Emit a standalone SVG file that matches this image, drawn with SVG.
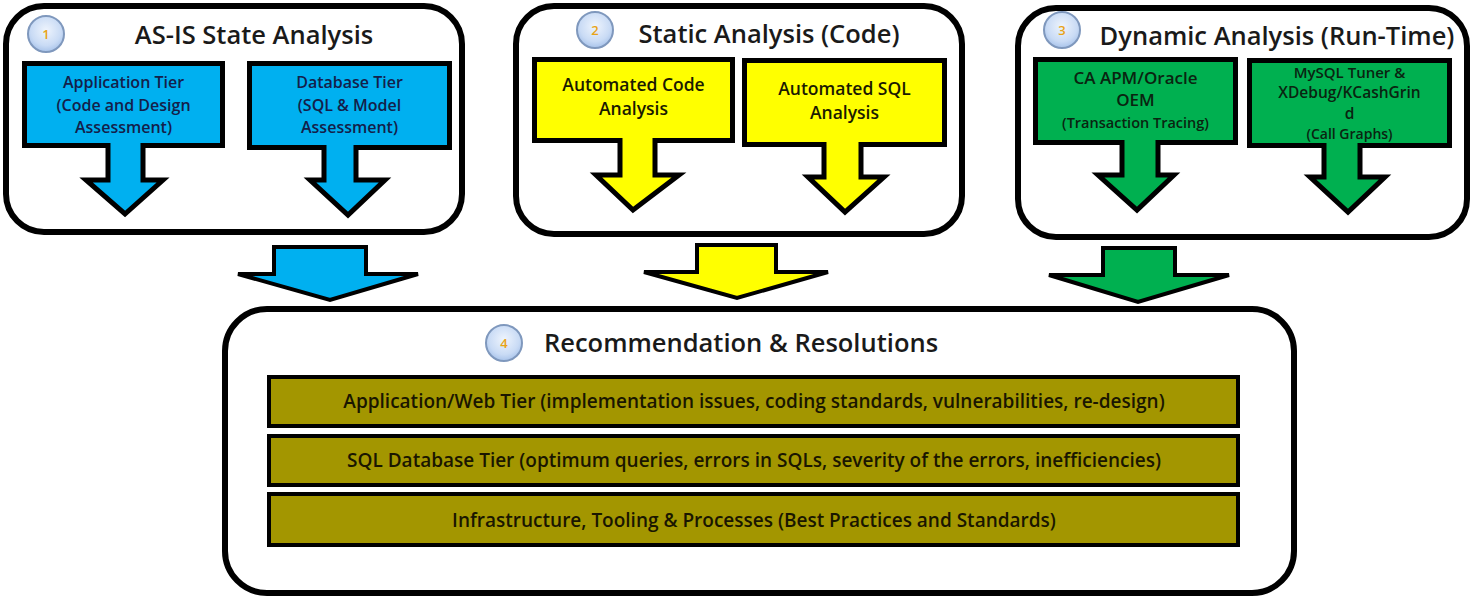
<svg xmlns="http://www.w3.org/2000/svg" width="1483" height="600" viewBox="0 0 1483 600">
<defs>
<radialGradient id="badgeGrad" cx="50%" cy="40%" r="60%">
<stop offset="0" stop-color="#eef4fd"/>
<stop offset="0.7" stop-color="#c9dbf5"/>
<stop offset="1" stop-color="#a8c3ea"/>
</radialGradient>
<style>
.panel{fill:#ffffff;stroke:#000;stroke-width:6}
.callout{stroke:#000;stroke-width:5;stroke-linejoin:miter;stroke-miterlimit:4}
.blue{fill:#00b0f0}
.yellow{fill:#ffff00}
.green{fill:#00b050}
.bar{fill:#a39600;stroke:#000;stroke-width:4}
.big{stroke:#000;stroke-width:4;stroke-linejoin:miter;stroke-miterlimit:4}
.badge{fill:url(#badgeGrad);stroke:#7f98bd;stroke-width:2}
.num{font-family:"Open Sans","Liberation Sans",sans-serif;font-size:13px;font-weight:600;fill:#e8a317;text-anchor:middle}
.title{font-family:"Open Sans","Liberation Sans",sans-serif;font-size:25.5px;font-weight:600;fill:#1a1a1a;text-anchor:middle}
.t{font-family:"Open Sans","Liberation Sans",sans-serif;font-size:16px;font-weight:600;text-anchor:middle}
.tb{fill:#14204a}
.ty{fill:#1a1a00;font-size:17.5px}
.tg{fill:#0a2410}
.to{font-family:"Open Sans","Liberation Sans",sans-serif;font-size:19px;font-weight:600;fill:#1a1600;text-anchor:middle}
</style>
</defs>
<rect width="1483" height="600" fill="#ffffff"/>

<!-- Panel 1 -->
<g id="panel-asis">
<rect class="panel" x="6" y="6" width="456" height="226" rx="38" ry="38"/>
<circle class="badge" cx="46" cy="34" r="18"/>
<text class="num" x="46" y="39">1</text>
<text class="title" x="254" y="44">AS-IS State Analysis</text>
</g>
<g id="app-tier">
<path class="callout blue" d="M24.5,63.5 H222.5 V145.5 H143 V180 H163 L125,214 L86,180 H108 V145.5 H24.5 Z"/>
<text class="t tb" x="123.5" y="88">Application Tier</text>
<text class="t tb" x="123.5" y="111">(Code and Design</text>
<text class="t tb" x="123.5" y="133">Assessment)</text>
</g>
<g id="db-tier">
<path class="callout blue" d="M249.5,63.5 H449.5 V147.5 H356 V180 H385 L348,215 L310,180 H324 V147.5 H249.5 Z"/>
<text class="t tb" x="349.5" y="88">Database Tier</text>
<text class="t tb" x="349.5" y="111">(SQL &amp; Model</text>
<text class="t tb" x="349.5" y="133">Assessment)</text>
</g>

<!-- Panel 2 -->
<g id="panel-static">
<rect class="panel" x="516" y="6" width="446" height="228" rx="38" ry="38"/>
<circle class="badge" cx="595" cy="30" r="18"/>
<text class="num" x="595" y="35">2</text>
<text class="title" x="769" y="43">Static Analysis (Code)</text>
</g>
<g id="code-analysis">
<path class="callout yellow" d="M534.5,59.5 H732.5 V140.5 H655 V175 H679 L633,210 L596,175 H620 V140.5 H534.5 Z"/>
<text class="t ty" x="633.5" y="91">Automated Code</text>
<text class="t ty" x="633.5" y="115">Analysis</text>
</g>
<g id="sql-analysis">
<path class="callout yellow" d="M744.5,60.5 H944.5 V144.5 H861 V177 H884 L845,212 L808,177 H824 V144.5 H744.5 Z"/>
<text class="t ty" x="844.5" y="95">Automated SQL</text>
<text class="t ty" x="844.5" y="119">Analysis</text>
</g>

<!-- Panel 3 -->
<g id="panel-dynamic">
<rect class="panel" x="1018" y="8" width="449" height="229" rx="38" ry="38"/>
<circle class="badge" cx="1062" cy="30" r="18"/>
<text class="num" x="1062" y="35">3</text>
<text class="title" x="1277" y="45">Dynamic Analysis (Run-Time)</text>
</g>
<g id="apm">
<path class="callout green" d="M1035.5,59.5 H1235.5 V142.5 H1158 V175 H1174 L1137,210 L1098,175 H1122 V142.5 H1035.5 Z"/>
<text class="t tg" x="1135.5" y="84" style="font-size:17px">CA APM/Oracle</text>
<text class="t tg" x="1135.5" y="106" style="font-size:17px">OEM</text>
<text class="t tg" x="1135.5" y="128" style="font-size:14.5px">(Transaction Tracing)</text>
</g>
<g id="mysql-tuner">
<path class="callout green" d="M1249.5,60.5 H1449.5 V145.5 H1360 V177 H1385 L1348,212 L1310,177 H1324 V145.5 H1249.5 Z"/>
<text class="t tg" x="1349.5" y="78" style="font-size:15px">MySQL Tuner &amp;</text>
<text class="t tg" x="1349.5" y="98" style="font-size:15.5px">XDebug/KCashGrin</text>
<text class="t tg" x="1349.5" y="119" style="font-size:15.5px">d</text>
<text class="t tg" x="1349.5" y="139" style="font-size:14px">(Call Graphs)</text>
</g>

<!-- Connectors -->
<g id="connectors">
<path class="big blue" d="M274,247 H366 V274 H418 L330,300 L238,274 H274 Z"/>
<path class="big yellow" d="M697,245 H776 V272 H828 L737,298 L644,272 H697 Z"/>
<path class="big green" d="M1103,248 H1175 V275 H1229 L1138,302 L1049,275 H1103 Z"/>
</g>

<!-- Panel 4 -->
<g id="panel-recommendation">
<rect class="panel" x="225" y="309" width="1069" height="284" rx="42" ry="42"/>
<circle class="badge" cx="504" cy="343" r="18"/>
<text class="num" x="504" y="348">4</text>
<text class="title" x="741" y="352">Recommendation &amp; Resolutions</text>
</g>
<g id="bar-app">
<rect class="bar" x="269" y="377" width="969" height="49"/>
<text class="to" x="754" y="408">Application/Web Tier (implementation issues, coding standards, vulnerabilities, re-design)</text>
</g>
<g id="bar-sql">
<rect class="bar" x="269" y="436" width="969" height="49"/>
<text class="to" x="754" y="467">SQL Database Tier (optimum queries, errors in SQLs, severity of the errors, inefficiencies)</text>
</g>
<g id="bar-infra">
<rect class="bar" x="269" y="494" width="969" height="51"/>
<text class="to" x="754" y="527">Infrastructure, Tooling &amp; Processes (Best Practices and Standards)</text>
</g>
</svg>
